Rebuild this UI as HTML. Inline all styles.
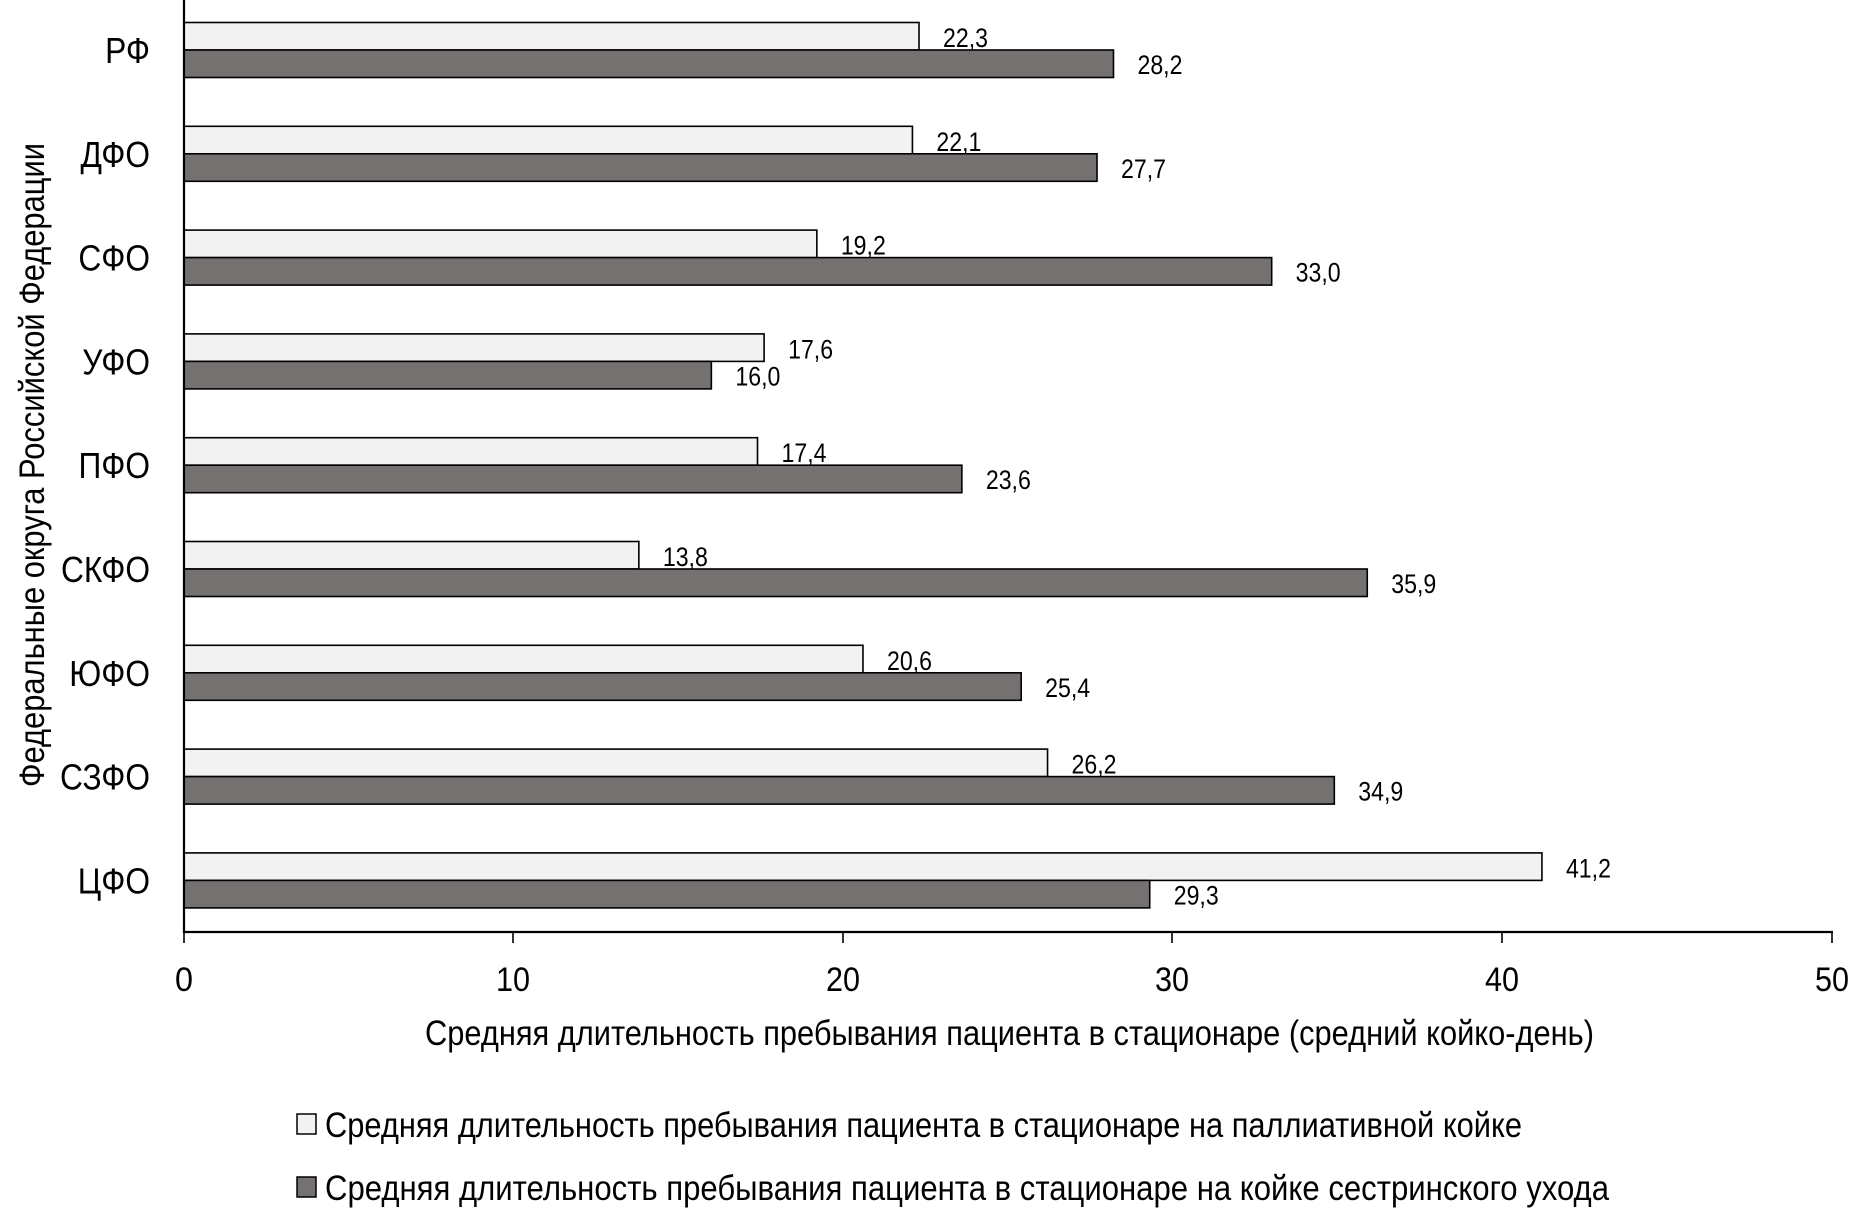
<!DOCTYPE html>
<html><head><meta charset="utf-8"><style>
html,body{margin:0;padding:0;background:#fff}
svg{display:block}
text{font-family:"Liberation Sans Narrow","Liberation Sans",sans-serif;fill:#000}
</style></head><body>
<svg width="1870" height="1228" viewBox="0 0 1870 1228" xmlns="http://www.w3.org/2000/svg">
<g id="bars" stroke="#000" stroke-width="1.6"></g>
<line x1="184" y1="0" x2="184" y2="933" stroke="#000" stroke-width="2.2"/>
<line x1="183" y1="932" x2="1833" y2="932" stroke="#000" stroke-width="2.2"/>
<g stroke="#000" stroke-width="1.6">
<line x1="184" y1="932" x2="184" y2="943"/><line x1="513" y1="932" x2="513" y2="943"/>
<line x1="843" y1="932" x2="843" y2="943"/><line x1="1172" y1="932" x2="1172" y2="943"/>
<line x1="1502" y1="932" x2="1502" y2="943"/><line x1="1832" y1="932" x2="1832" y2="943"/>
</g>
<g font-size="34" text-anchor="middle">
<text x="184" y="991" textLength="18" lengthAdjust="spacingAndGlyphs">0</text>
<text x="513" y="991" textLength="34" lengthAdjust="spacingAndGlyphs">10</text>
<text x="843" y="991" textLength="34" lengthAdjust="spacingAndGlyphs">20</text>
<text x="1172" y="991" textLength="34" lengthAdjust="spacingAndGlyphs">30</text>
<text x="1502" y="991" textLength="34" lengthAdjust="spacingAndGlyphs">40</text>
<text x="1832" y="991" textLength="34" lengthAdjust="spacingAndGlyphs">50</text>
</g>
<g id="cats" font-size="36" text-anchor="end"></g>
<g id="vals" font-size="27"></g>
<text x="425" y="1045" font-size="35" textLength="1169" lengthAdjust="spacingAndGlyphs">Средняя длительность пребывания пациента в стационаре (средний койко-день)</text>
<text transform="translate(44,787) rotate(-90)" font-size="35" textLength="644" lengthAdjust="spacingAndGlyphs">Федеральные округа Российской Федерации</text>
<rect x="297" y="1114" width="19" height="20" fill="#f2f2f2" stroke="#000" stroke-width="1.5"/>
<rect x="297" y="1177" width="19" height="20" fill="#767171" stroke="#000" stroke-width="1.5"/>
<text x="325" y="1137" font-size="35" textLength="1197" lengthAdjust="spacingAndGlyphs">Средняя длительность пребывания пациента в стационаре на паллиативной койке</text>
<text x="325" y="1200" font-size="35" textLength="1284" lengthAdjust="spacingAndGlyphs">Средняя длительность пребывания пациента в стационаре на  койке сестринского ухода</text>
<script>
var cats=["РФ","ДФО","СФО","УФО","ПФО","СКФО","ЮФО","СЗФО","ЦФО"];
var L=[22.3,22.1,19.2,17.6,17.4,13.8,20.6,26.2,41.2];
var D=[28.2,27.7,33.0,16.0,23.6,35.9,25.4,34.9,29.3];
var ns="http://www.w3.org/2000/svg",x0=184,k=32.96,h=27.5;
var bg=document.getElementById("bars"),cg=document.getElementById("cats"),vg=document.getElementById("vals");
function el(t,a,p,txt){var e=document.createElementNS(ns,t);for(var i in a)e.setAttribute(i,a[i]);if(txt)e.textContent=txt;p.appendChild(e);return e;}
function f(v){return v.toFixed(1).replace(".",",");}
for(var i=0;i<9;i++){var b=50+i*103.8;
el("rect",{x:x0,y:b-h,width:L[i]*k,height:h,fill:"#f2f2f2"},bg);
el("rect",{x:x0,y:b,width:D[i]*k,height:h,fill:"#767171"},bg);
var c=el("text",{x:150,y:b+13},cg,cats[i]);
var w=c.getComputedTextLength();c.setAttribute("textLength",(w*0.88).toFixed(1));c.setAttribute("lengthAdjust","spacingAndGlyphs");
el("text",{x:x0+L[i]*k+24,y:b-3,textLength:45,lengthAdjust:"spacingAndGlyphs"},vg,f(L[i]));
el("text",{x:x0+D[i]*k+24,y:b+24,textLength:45,lengthAdjust:"spacingAndGlyphs"},vg,f(D[i]));}
</script>
</svg>
</body></html>
